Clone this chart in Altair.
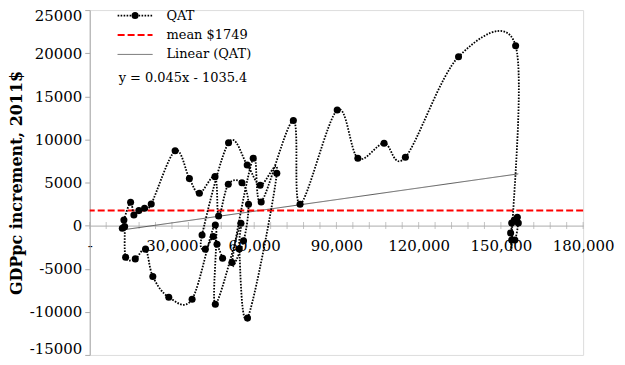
import altair as alt
import pandas as pd

# QAT series, in sequence order: GDP per capita (2011$) and its increment
gdppc = [48470, 46440, 45090, 42180, 40980, 50650, 57450, 62180, 68250, 57560,
         54550, 55160, 45820, 45820, 37350, 28840, 23020, 20360, 16620, 13090,
         12730, 11890, 12470, 14910, 16110, 17930, 20000, 22440, 31160, 36360,
         40000, 45710, 47020, 50550, 55530, 57930, 56110, 51890, 59640, 62550,
         74290, 76730, 90290, 97820, 107380, 115160, 134550, 155380, 153930, 153930,
         154910, 156000, 156360, 155100, 153560]
increment = [-3780, -2160, -1270, -2730, -1080, 9620, 7030, 4680, 6070, -10730,
             -2700, 280, -9110, 80, -8530, -8300, -5910, -2730, -3860, -3660,
             -120, -300, 660, 2710, 1240, 1740, 2020, 2510, 8690, 5450,
             3750, 5680, 1120, 4800, 4980, 2480, -1770, -4290, 7810, 2750,
             12190, 2480, 13410, 7810, 9550, 7930, 19580, 20860, -1660, 310,
             660, 970, 310, -1660, -850]

mean_value = 1749
trend_slope = 0.045
trend_intercept = -1035.4

x_label_values = [0, 30000, 60000, 90000, 120000, 150000, 180000]
x_minor_ticks = list(range(0, 180001, 6000))
y_tick_values = [-15000, -10000, -5000, 0, 5000, 10000, 15000, 20000, 25000]

series_name = "QAT"
mean_name = f"mean ${mean_value}"
trend_name = "Linear (QAT)"
equation = f"y = {trend_slope}x - {abs(trend_intercept)}"

# ---------------------------------------------------------------- layout
W, H = 495, 346
SERIF = "DejaVu Serif"
GRAY = "#ABABAB"
QAT_DASH = [1.6, 1.4]

qat = pd.DataFrame({"gdppc": gdppc, "increment": increment,
                    "seq": list(range(len(gdppc))),
                    "series": series_name, "series2": series_name})
xmin, xmax = min(gdppc), max(gdppc)
trend = pd.DataFrame({"gdppc": [xmin, xmax],
                      "increment": [trend_slope * xmin + trend_intercept,
                                    trend_slope * xmax + trend_intercept],
                      "series2": trend_name})
mean_df = pd.DataFrame({"increment": [mean_value], "series2": [mean_name]})
ticks_df = pd.DataFrame({"gdppc": x_minor_ticks, "increment": 0})

xscale = alt.Scale(domain=[0, 180000], nice=False, zero=False)
yscale = alt.Scale(domain=[-15000, 25000], nice=False, zero=False)

x_axis = alt.Axis(values=x_label_values,
                  labelExpr="datum.value == 0 ? '-' : format(datum.value, ',')",
                  ticks=False, domainColor=GRAY, domainWidth=1,
                  labelFont=SERIF, labelFontSize=15, labelColor="black",
                  labelPadding=13, offset=-H * 15 / 40, grid=False, title=None,
                  labelFlush=False, labelOverlap=False)
y_axis = alt.Axis(values=y_tick_values,
                  labelExpr="datum.value < 0 ? '-' + format(-datum.value, 'd') : format(datum.value, 'd')",
                  tickSize=5, tickColor=GRAY,
                  domainColor=GRAY, labelFont=SERIF, labelFontSize=15,
                  labelColor="black", labelPadding=3, grid=False,
                  labelFlush=True, labelFlushOffset=1.5,
                  title="GDPpc increment, 2011$", titleFont=SERIF,
                  titleFontSize=16, titleFontWeight="bold", titleColor="black",
                  titleX=-73, titleY=H / 2, titleBaseline="middle",
                  titleAlign="center", titleAngle=270)

X = alt.X("gdppc:Q", scale=xscale, axis=x_axis)
Y = alt.Y("increment:Q", scale=yscale, axis=y_axis)

# one legend for the three strokes (QAT, mean, trend), equation as its footer
leg_domain = [series_name, mean_name, trend_name]
line_path = "M-3.5,0L3.5,0"          # 35 px wide at symbolSize 100
leg = alt.Legend(orient="none", legendX=29, legendY=-1, title=equation,
                 titleOrient="bottom", titleAnchor="start", titleFont=SERIF,
                 titleFontSize=13, titleFontWeight="normal", titleColor="black",
                 titlePadding=10, symbolType=line_path, symbolSize=100,
                 symbolOffset=10,
                 labelFont=SERIF, labelFontSize=13, labelColor="black",
                 labelOffset=25, rowPadding=5.5, padding=0)
color_l = alt.Color("series2:N", scale=alt.Scale(
    domain=leg_domain, range=["black", "#FF0000", "#595959"]), legend=leg)
dash_l = alt.StrokeDash("series2:N", scale=alt.Scale(
    domain=leg_domain, range=[QAT_DASH, [7, 3], [1, 0]]), legend=leg)
width_l = alt.StrokeWidth("series2:N", scale=alt.Scale(
    type="ordinal", domain=leg_domain, range=[1.8, 2, 1]), legend=leg)

# the marker dot of the QAT legend entry, laid over the dotted stroke
leg_dot = alt.Legend(orient="none", legendX=29, legendY=-1, title=None,
                     symbolType="circle", symbolSize=50, symbolOffset=10,
                     symbolFillColor="black", labelFont=SERIF,
                     labelFontSize=13, labelOpacity=0, labelOffset=25,
                     padding=0)

ticks = alt.Chart(ticks_df).mark_tick(orient="vertical", size=7, thickness=1,
                                      color=GRAY).encode(x=X, y=Y)

mean_rule = alt.Chart(mean_df).mark_rule().encode(
    y=Y, color=color_l, strokeDash=dash_l, strokeWidth=width_l)

trend_line = alt.Chart(trend).mark_line().encode(
    x=X, y=Y, color=color_l, strokeDash=dash_l, strokeWidth=width_l)

qat_line = alt.Chart(qat).mark_line(interpolate="cardinal").encode(
    x=X, y=Y, order="seq:Q", color=color_l, strokeDash=dash_l,
    strokeWidth=width_l)

qat_points = alt.Chart(qat).mark_circle(size=50, color="black").encode(
    x=X, y=Y,
    opacity=alt.Opacity("series:N", scale=alt.Scale(domain=[series_name],
                                                     range=[1]), legend=leg_dot))

chart = alt.layer(ticks, trend_line, mean_rule, qat_line, qat_points).properties(
    width=W, height=H,
    padding={"left": 82, "top": 1.5, "right": 34, "bottom": 3},
    autosize=alt.AutoSizeParams(type="none"),
).configure_view(stroke=None).configure(background="white")

chart.save("out.html", embed_options={"renderer": "svg", "actions": False})
